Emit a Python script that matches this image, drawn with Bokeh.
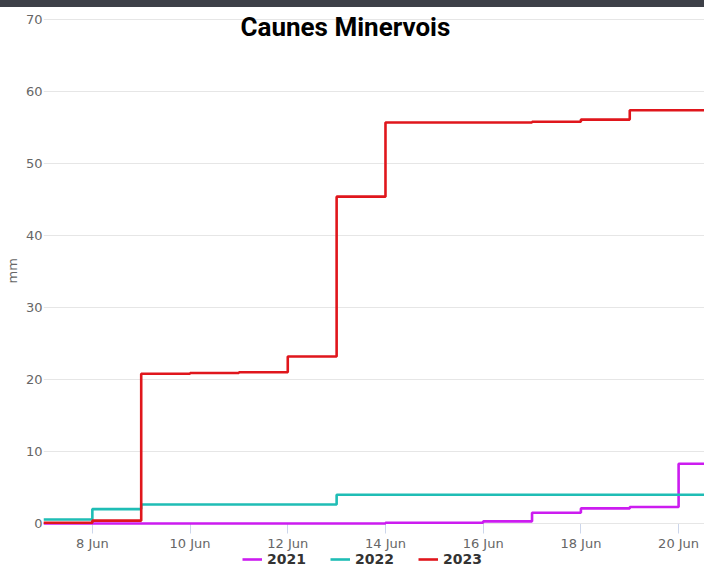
from datetime import datetime, timedelta
import pandas as pd
from bokeh.plotting import figure
from bokeh.layouts import column
from bokeh.models import (Range1d, FixedTicker, DatetimeTickFormatter, Legend,
                          LegendItem, Label, ColumnDataSource, Div, Title)
from bokeh.embed import file_html
from bokeh.resources import INLINE

# ---- data (cumulative rainfall, mm, value from each day onward) ----
dates = ["2023-06-07", "2023-06-08", "2023-06-09", "2023-06-10", "2023-06-11",
         "2023-06-12", "2023-06-13", "2023-06-14", "2023-06-15", "2023-06-16",
         "2023-06-17", "2023-06-18", "2023-06-19", "2023-06-20", "2023-06-21"]
rain_2021 = [0.0, 0.0, 0.0, 0.0, 0.0, 0.0, 0.0, 0.1, 0.1, 0.3, 1.5, 2.1, 2.3, 8.3, 8.3]
rain_2022 = [0.55, 2.0, 2.65, 2.65, 2.65, 2.65, 4.0, 4.0, 4.0, 4.0, 4.0, 4.0, 4.0, 4.0, 4.0]
rain_2023 = [0.1, 0.4, 20.8, 20.9, 21.0, 23.2, 45.4, 55.7, 55.7, 55.7, 55.8, 56.1, 57.4, 57.4, 57.4]
series_names = ["2021", "2022", "2023"]
series_colors = ["#cc1cf0", "#1fbdb5", "#e0161c"]
tick_dates = ["2023-06-08", "2023-06-10", "2023-06-12", "2023-06-14",
              "2023-06-16", "2023-06-18", "2023-06-20"]
y_ticks = [0, 10, 20, 30, 40, 50, 60, 70]
title_text = "Caunes Minervois"
y_label = "mm"

x = pd.to_datetime(dates)
x_start = datetime(2023, 6, 7)
x_end = x_start + timedelta(days=13.53)

p = figure(width=704, height=560, output_backend="svg", toolbar_location=None,
           x_axis_type="datetime",
           x_range=Range1d(x_start, x_end), y_range=Range1d(-6.11, 71.67),
           min_border_left=43, min_border_right=0, min_border_top=0,
           min_border_bottom=0)
p.outline_line_color = None
p.background_fill_color = "white"
p.border_fill_color = "white"

renderers = []
for vals, col in zip([rain_2021, rain_2022, rain_2023], series_colors):
    src = ColumnDataSource(dict(x=x, y=vals))
    r = p.step("x", "y", source=src, mode="after", line_color=col, line_width=2.6)
    renderers.append(r)

# x axis (sits at y = 0 inside the frame so the legend fits underneath)
p.xaxis.fixed_location = 0
p.xaxis.level = "underlay"
p.xaxis.ticker = FixedTicker(ticks=[pd.Timestamp(d).value / 1e6 for d in tick_dates])
fmt = "%-d %b"
p.xaxis.formatter = DatetimeTickFormatter(days=fmt, hours=fmt, months=fmt,
                                          hourmin=fmt, minutes=fmt)
p.xaxis.axis_line_color = "#ccd6eb"
p.xaxis.major_tick_line_color = "#ccd6eb"
p.xaxis.major_tick_out = 10
p.xaxis.major_tick_in = 0
p.xaxis.minor_tick_line_color = None
p.xaxis.minor_tick_out = 0
p.xaxis.major_label_standoff = 2
p.xaxis.major_label_text_font = "DejaVu Sans"
p.xaxis.major_label_text_font_size = "13px"
p.xaxis.major_label_text_color = "#666666"

# y axis
p.yaxis.ticker = FixedTicker(ticks=y_ticks)
p.yaxis.axis_line_color = None
p.yaxis.major_tick_line_color = None
p.yaxis.minor_tick_line_color = None
p.yaxis.major_tick_out = 0
p.yaxis.major_tick_in = 0
p.yaxis.minor_tick_out = 0
p.yaxis.major_label_standoff = 1
p.yaxis.major_label_text_font = "DejaVu Sans"
p.yaxis.major_label_text_font_size = "13px"
p.yaxis.major_label_text_color = "#666666"

# y axis title ("mm"), placed level with the middle of the 0-70 span
y_title = Title(text=y_label, align="left", offset=284, standoff=5,
                text_font="DejaVu Sans", text_font_style="normal",
                text_font_size="13px", text_color="#666666")
p.add_layout(y_title, "left")

p.xgrid.grid_line_color = None
p.ygrid.grid_line_color = "#e6e6e6"
p.ygrid.grid_line_width = 1

# title drawn over the plot area
title = Label(x=x_start + timedelta(days=6.18), y=69.0, text=title_text,
              text_align="center", text_baseline="alphabetic",
              text_font="Roboto", text_font_style="bold", text_font_size="26px",
              text_color="#000000")
p.add_layout(title)

legend = Legend(items=[LegendItem(label=n, renderers=[r])
                       for n, r in zip(series_names, renderers)],
                orientation="horizontal", location=(199, 0),
                label_text_font="DejaVu Sans", label_text_font_style="bold",
                label_text_font_size="14px", label_text_color="#333333",
                glyph_width=20, glyph_height=14, label_height=14,
                label_standoff=5, spacing=24, padding=0, margin=0,
                border_line_color=None, background_fill_alpha=0)
p.add_layout(legend, "center")

# dark band along the top edge of the page
band = Div(text="", width=704, height=7, margin=0,
           styles={"background-color": "#3d4048"})

layout = column(band, p, spacing=0)
open("out.html", "w").write(file_html(layout, INLINE))
